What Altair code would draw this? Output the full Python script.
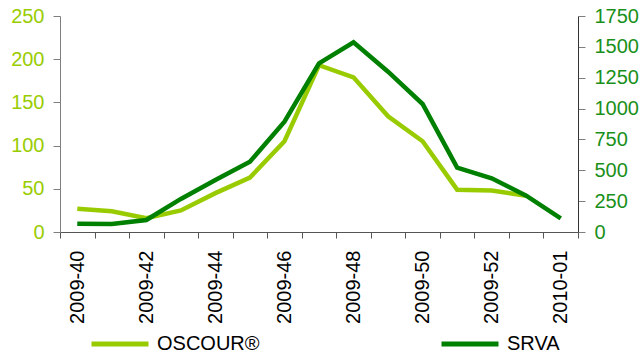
import altair as alt
import pandas as pd

# Weekly counts, ISO weeks 2009-40 .. 2010-01
weeks = ["2009-40", "2009-41", "2009-42", "2009-43", "2009-44", "2009-45",
         "2009-46", "2009-47", "2009-48", "2009-49", "2009-50", "2009-51",
         "2009-52", "2009-53", "2010-01"]
oscour = [27, 24, 16, 25, 45, 63, 105, 193, 179, 134, 105, 49, 48, 42, None]
srva = [67, 65, 97, 268, 421, 570, 894, 1367, 1537, 1299, 1037, 521, 435, 294, 111]

shown_labels = ["2009-40", "2009-42", "2009-44", "2009-46", "2009-48",
                "2009-50", "2009-52", "2010-01"]

series_names = ["OSCOUR®", "SRVA"]
series_colors = ["#99cc00", "#008000"]

rows = []
for w, o, s in zip(weeks, oscour, srva):
    if o is not None:
        rows.append({"week": w, "series": "OSCOUR®", "value": o})
    rows.append({"week": w, "series": "SRVA", "value": s})
df = pd.DataFrame(rows)

FONT = "Liberation Sans"
label_list = "[" + ",".join("'" + l + "'" for l in shown_labels) + "]"

x_enc = alt.X(
    "week:O",
    sort=weeks,
    scale=alt.Scale(type="band", domain=weeks, paddingInner=0, paddingOuter=0),
    bandPosition=0.5,
    axis=alt.Axis(
        title=None,
        tickBand="extent",
        labelAngle=270,
        labelAlign="right",
        labelBaseline="middle",
        labelFont=FONT,
        labelFontSize=20,
        labelColor="#000000",
        labelPadding=12,
        labelExpr="indexof(" + label_list + ", datum.value) >= 0 ? datum.value : ''",
        domainColor="#555555",
        tickColor="#555555",
        tickSize=6,
        grid=False,
    ),
)

color_enc = alt.Color(
    "series:N",
    scale=alt.Scale(domain=series_names, range=series_colors),
    legend=alt.Legend(
        title=None,
        orient="none",
        direction="horizontal",
        legendX=29,
        legendY=297,
        padding=0,
        symbolType="stroke",
        symbolSize=3249,
        symbolStrokeWidth=5,
        labelFont=FONT,
        labelFontSize=20,
        labelColor="#000000",
        labelOffset=6,
        columnPadding=171,
    ),
)

left = alt.Chart(df).transform_filter(alt.datum.series == "OSCOUR®").mark_line(
    strokeWidth=4.5
).encode(
    x=x_enc,
    y=alt.Y(
        "value:Q",
        scale=alt.Scale(domain=[0, 250]),
        axis=alt.Axis(
            title=None, orient="left", values=[0, 50, 100, 150, 200, 250],
            labelFont=FONT, labelFontSize=20, labelColor="#99cc00",
            labelPadding=9, tickSize=7, domainColor="#7f7f7f", tickColor="#7f7f7f",
            grid=False,
        ),
    ),
    color=color_enc,
)

right = alt.Chart(df).transform_filter(alt.datum.series == "SRVA").mark_line(
    strokeWidth=4.5
).encode(
    x=x_enc,
    y=alt.Y(
        "value:Q",
        scale=alt.Scale(domain=[0, 1750]),
        axis=alt.Axis(
            title=None, orient="right", format="d",
            values=[0, 250, 500, 750, 1000, 1250, 1500, 1750],
            labelFont=FONT, labelFontSize=20, labelColor="#1a901a",
            labelPadding=9, tickSize=7, domainColor="#333333", tickColor="#7f7f7f",
            grid=False,
        ),
    ),
    color=color_enc,
)

chart = alt.layer(left, right).resolve_scale(y="independent").properties(
    width=518,
    height=216,
    autosize=alt.AutoSizeParams(type="none"),
    padding={"left": 60, "top": 16, "right": 64, "bottom": 123},
    background="#ffffff",
).configure_view(stroke=None)

chart.save("out.html", embed_options={"renderer": "svg", "actions": False})
